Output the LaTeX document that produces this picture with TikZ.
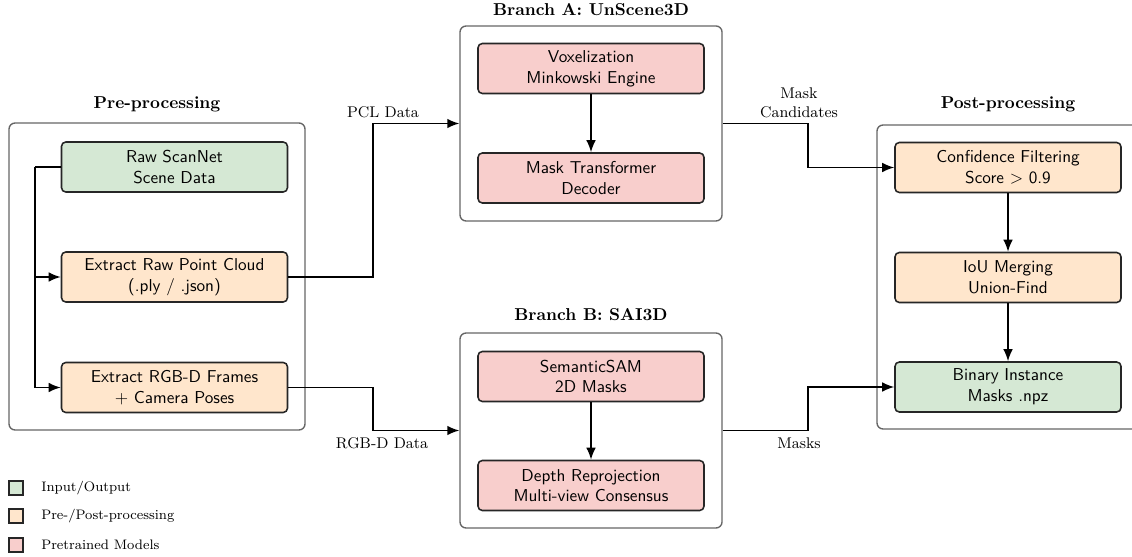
\documentclass[tikz,border=0pt]{standalone}
\usepackage{fontspec}
\usetikzlibrary{arrows.meta,calc}
\definecolor{ioGreen}{HTML}{D5E8D4}
\definecolor{procOrange}{HTML}{FFE6CC}
\definecolor{modelPink}{HTML}{F8CECC}
\definecolor{groupGray}{HTML}{666666}
\newlength{\pxu}
\setlength{\pxu}{0.5814pt}
\tikzset{
  stagebox/.style={draw=black!85, line width=0.9pt, rounded corners=2.5pt,
    minimum width=226\pxu, minimum height=50\pxu, inner sep=0pt,
    align=center, font=\sffamily},
  iobox/.style={stagebox, fill=ioGreen},
  procbox/.style={stagebox, fill=procOrange},
  modelbox/.style={stagebox, fill=modelPink},
  groupbox/.style={draw=groupGray, line width=0.8pt, rounded corners=3.5pt,
    fill=white, inner sep=0pt},
  grouptitle/.style={font=\bfseries, inner sep=0pt},
  flow/.style={draw=black, line width=0.9pt, -{Latex[length=7pt,width=5.6pt]}},
  flowlabel/.style={font=\small, align=center, inner sep=0pt},
  legendsq/.style={draw=black!85, line width=0.8pt, minimum size=14\pxu, inner sep=0pt},
  legendtext/.style={font=\footnotesize, anchor=west, inner sep=0pt}
}
\begin{document}
\begin{tikzpicture}[x=\pxu, y=-\pxu]
\useasboundingbox (0,0) rectangle (1132,557);

% group frames
\node[groupbox, minimum width=296\pxu, minimum height=307\pxu] (pre) at (157,276.5) {};
\node[groupbox, minimum width=262\pxu, minimum height=195\pxu] (brA) at (591,123.5) {};
\node[groupbox, minimum width=262\pxu, minimum height=195\pxu] (brB) at (591,430.5) {};
\node[groupbox, minimum width=262\pxu, minimum height=304\pxu] (post) at (1008,277) {};

% group titles
\node[grouptitle] (preT) at (157,104) {Pre-processing};
\node[grouptitle] (brAT) at (591,10) {Branch A: UnScene3D};
\node[grouptitle] (brBT) at (591,315) {Branch B: SAI3D};
\node[grouptitle] (postT) at (1008,104) {Post-processing};

% pre-processing stages
\node[iobox] (raw) at (174.5,167) {Raw ScanNet\\Scene Data};
\node[procbox] (pcl) at (174.5,277) {Extract Raw Point Cloud\\(.ply / .json)};
\node[procbox] (rgbd) at (174.5,387.5) {Extract RGB-D Frames\\+ Camera Poses};

% branch A
\node[modelbox] (vox) at (591,68.5) {Voxelization\\Minkowski Engine};
\node[modelbox] (mtd) at (591,178) {Mask Transformer\\Decoder};

% branch B
\node[modelbox] (ssam) at (591,376.5) {SemanticSAM\\2D Masks};
\node[modelbox] (depth) at (591,485.5) {Depth Reprojection\\Multi-view Consensus};

% post-processing
\node[procbox] (conf) at (1008,167.5) {Confidence Filtering\\Score $>$ 0.9};
\node[procbox] (iou) at (1008,277.5) {IoU Merging\\Union-Find};
\node[iobox] (bin) at (1008,387) {Binary Instance\\Masks .npz};

% routing columns
\coordinate (colA) at (373,0);
\coordinate (colC) at (808,0);

% pre-processing fan-out
\draw[draw=black, line width=0.9pt] (raw.west) -- ++(-26,0) coordinate (split);
\draw[flow] (split) |- (pcl.west);
\draw[flow] (split) |- (rgbd.west);

% into the branches
\draw[flow] (pcl.east) -- (pcl.east -| colA) |- (brA.west);
\draw[flow] (rgbd.east) -- (rgbd.east -| colA) |- (brB.west);
\node[flowlabel] (lblPcl) at (383,112) {PCL Data};
\node[flowlabel] (lblRgbd) at (382,443) {RGB-D Data};

% inside the branches
\draw[flow] (vox) -- (mtd);
\draw[flow] (ssam) -- (depth);

% out of the branches
\draw[flow] (brA.east) -- (brA.east -| colC) |- (conf.west);
\draw[flow] (brB.east) -- (brB.east -| colC) |- (bin.west);
\node[flowlabel] (lblCand) at (799,103) {Mask\\Candidates};
\node[flowlabel] (lblMasks) at (799,443) {Masks};

% post-processing chain
\draw[flow] (conf) -- (iou);
\draw[flow] (iou) -- (bin);

% legend
\node[legendsq, fill=ioGreen] (lgIo) at (16,488) {};
\node[legendsq, fill=procOrange] (lgProc) at (16,516) {};
\node[legendsq, fill=modelPink] (lgModel) at (16,545) {};
\node[legendtext] (lgIoT) at (41,488) {Input/Output};
\node[legendtext] (lgProcT) at (41,516) {Pre-/Post-processing};
\node[legendtext] (lgModelT) at (41,545) {Pretrained Models};
\end{tikzpicture}
\end{document}
